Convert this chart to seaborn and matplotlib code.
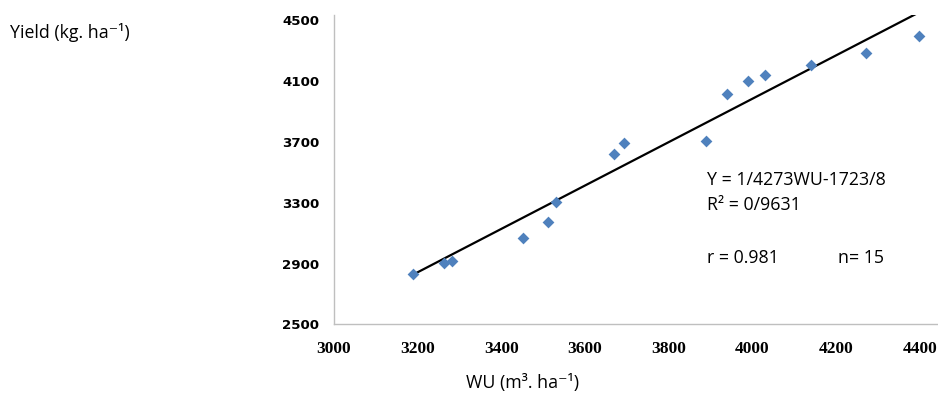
import matplotlib
matplotlib.use("Agg")
import matplotlib.pyplot as plt
import seaborn as sns
import numpy as np
import pandas as pd

# data
wu = [3190, 3262, 3282, 3451, 3511, 3530, 3670, 3692, 3890, 3940, 3990, 4031, 4141, 4272, 4398]
yield_ = [2833, 2905, 2918, 3070, 3175, 3307, 3623, 3696, 3709, 4019, 4105, 4144, 4210, 4289, 4395]
slope = 1.4273
intercept = -1723.8
x_ticks = [3000, 3200, 3400, 3600, 3800, 4000, 4200, 4400]
y_ticks = [2500, 2900, 3300, 3700, 4100, 4500]

sns.set_style("white")
plt.rcParams['font.family'] = ['Open Sans', 'DejaVu Sans']

df = pd.DataFrame({"WU": wu, "Yield": yield_})
line_x = np.array([min(wu), max(wu)])
line_df = pd.DataFrame({"WU": line_x, "Yield": slope * line_x + intercept})

fig = plt.figure(figsize=(9.38, 3.95), dpi=100)
ax = fig.add_axes([0.356, 0.1785, 0.643, 0.7835])

sns.lineplot(data=line_df, x="WU", y="Yield", color="black", linewidth=1.6, ax=ax)
sns.scatterplot(data=df, x="WU", y="Yield", marker="D", s=36, color="#4F81BD",
                linewidth=0, ax=ax, zorder=3)

ax.set_xlim(3000, 4441)
ax.set_ylim(2500, 4536)
ax.set_xticks(x_ticks)
ax.set_yticks(y_ticks)
ax.set_xticklabels([str(v) for v in x_ticks], fontfamily="Liberation Serif",
                   fontweight="bold", fontsize=12.5)
ax.set_yticklabels([str(v) for v in y_ticks], fontfamily="DejaVu Sans",
                   fontweight="bold", fontsize=9.6)
ax.set_xlabel("")
ax.set_ylabel("")
for s in ["top", "right"]:
    ax.spines[s].set_visible(False)
for s in ["left", "bottom"]:
    ax.spines[s].set_color("#BFBFBF")
    ax.spines[s].set_linewidth(1.0)
ax.tick_params(axis="both", direction="out", length=3.6, width=1, color="#BFBFBF",
               labelcolor="black")
ax.tick_params(axis="x", pad=8)
ax.tick_params(axis="y", pad=7)

tf = dict(family=['Open Sans', 'DejaVu Sans'], fontsize=12.8, color="black")
fig.text(10 / 938, 1 - 32 / 395, "Yield (kg. ha⁻¹)", va="center", ha="left", **tf)
fig.text(523 / 938, 1 - 383 / 395, "WU (m³. ha⁻¹)", va="center", ha="center", **tf)
fig.text(707 / 938, 1 - 180 / 395, "Y = 1/4273WU-1723/8", va="center", ha="left", **tf)
fig.text(707 / 938, 1 - 205 / 395, "R² = 0/9631", va="center", ha="left", **tf)
fig.text(707 / 938, 1 - 258 / 395, "r = 0.981", va="center", ha="left", **tf)
fig.text(838 / 938, 1 - 258 / 395, "n= 15", va="center", ha="left", **tf)

fig.savefig("out.png", dpi=100)
